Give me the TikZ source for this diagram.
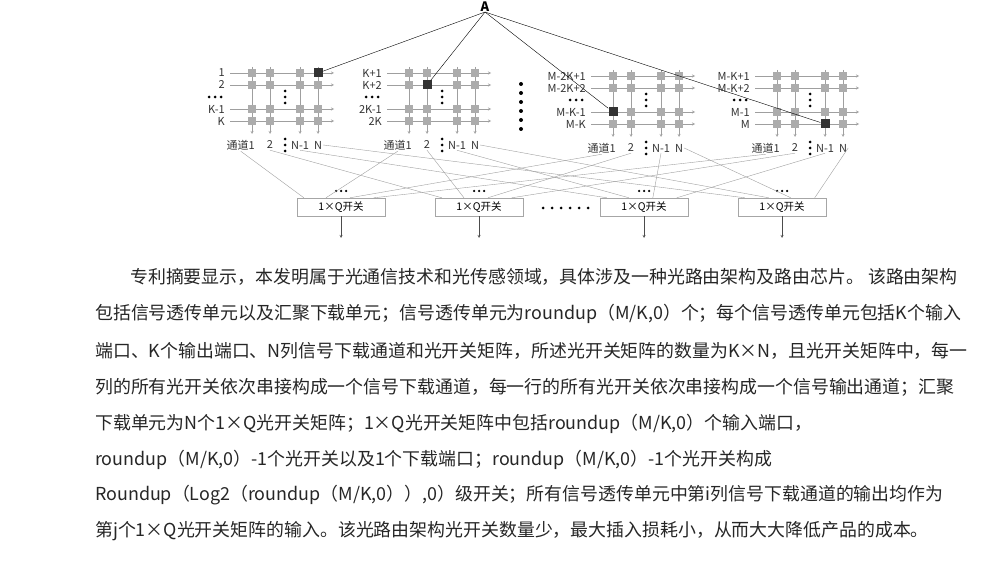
\documentclass[tikz,border=0pt]{standalone}
\usepackage{fontspec}
\setmainfont{Noto Sans CJK SC}
\usetikzlibrary{calc}
\tikzset{
  sq/.style={draw=none,fill=gray!65,minimum size=8pt,inner sep=0pt},
  dsq/.style={draw=none,fill=black!80,minimum size=9pt,inner sep=0pt},
  lbl/.style={font=\fontsize{11}{12}\selectfont,inner sep=1pt,text=black!80},
  sw/.style={draw=gray!70,minimum width=88pt,minimum height=18pt,inner sep=0pt,font=\fontsize{10.5}{11}\selectfont},
  txt/.style={anchor=west,inner sep=0pt,font=\fontsize{17.9}{20}\selectfont,text=black!85},
  ln/.style={gray!75,thin},
  dot/.style={circle,fill=black,inner sep=0pt,minimum size=3pt},
}
% one switch matrix: shift x, shift y, four row labels, name
\newcommand{\xblock}[7]{
  \begin{scope}[shift={(#1,#2)}]
    \foreach \r/\y/\t in {1/73/{#3},2/85/{#4},3/109/{#5},4/121/{#6}}{
      \node[lbl,anchor=east] (#7-l\r) at (0,\y) {\t};
      \draw[ln,-stealth] (4,\y) -- (108,\y);
    }
    \foreach \c/\x in {1/26,2/44,3/74,4/92}{
      \draw[ln,-stealth] (\x,67) -- (\x,134);
      \foreach \r/\y in {1/73,2/85,3/109,4/121}
        \node[sq] (#7-\r-\c) at (\x,\y) {};
    }
    \foreach \k in {-17,-11,-5} \node[dot] at (\k,97) {};
    \foreach \k in {91,97,103} \node[dot] at (59,\k) {};
    \node[lbl,anchor=east] (#7-c1) at (30,145) {通道1};
    \node[lbl] (#7-c2) at (44,145) {2};
    \foreach \k in {139,145,151} \node[dot] at (59,\k) {};
    \node[lbl] (#7-c3) at (74,145) {N-1};
    \node[lbl] (#7-c4) at (92,145) {N};
  \end{scope}
}
\begin{document}
\begin{tikzpicture}[x=1pt,y=-1pt]
\useasboundingbox (0,0) rectangle (988,564);
\node[font=\bfseries\fontsize{13}{13}\selectfont,inner sep=0pt] (A) at (485,7) {A};

\xblock{226}{0}{1}{2}{K-1}{K}{b1}
\xblock{383}{0}{K+1}{K+2}{2K-1}{2K}{b2}
\xblock{587}{3}{M-2K+1}{M-2K+2}{M-K-1}{M-K}{b3}
\xblock{751}{3}{M-K+1}{M-K+2}{M-1}{M}{b4}

% dark switches on the path
\node[dsq] (d1) at (b1-1-4) {};
\node[dsq] (d2) at (b2-2-2) {};
\node[dsq] (d3) at (b3-3-1) {};
\node[dsq] (d4) at (b4-4-3) {};
\foreach \d in {d1,d2,d3,d4}
  \draw[black,thin] (A.south) -- (\d);

\foreach \k in {84,93,102,111,120,129} \node[dot,minimum size=4pt] at (521,\k) {};

% 1xQ switches
\foreach \i/\x in {1/341,2/479,3/644,4/782}{
  \node[sw] (s\i) at (\x,207) {1×Q开关};
  \foreach \k in {-5,0,5} \node[dot,minimum size=2.5pt] at (\x+\k,191) {};
  \coordinate (o\i) at (\x,238);
  \draw[black!70,-stealth] (s\i) -- (o\i);
}
\foreach \k in {543,552,561,570,579,588} \node[dot] at (\k,208) {};

% channel i of every block to switch i
\foreach \b/\f in {1/.08,2/.33,3/.6,4/.87}
  \foreach \c in {1,2,3}
    \draw[ln] (b\b-c\c.south) -- ($(s\c.north west)!\f!(s\c.north east)$);
\foreach \b/\f in {1/.08,2/.35,3/.6,4/.87}
  \draw[ln] (b\b-c4.east) -- ($(s4.north west)!\f!(s4.north east)$);

% abstract text
\node[txt] (t1) at (130,277) {专利摘要显示，本发明属于光通信技术和光传感领域，具体涉及一种光路由架构及路由芯片。 该路由架构};
\node[txt] (t2) at (95,314) {包括信号透传单元以及汇聚下载单元；信号透传单元为roundup（M/K,0）个；每个信号透传单元包括K个输入};
\node[txt] (t3) at (95,351) {端口、K个输出端口、N列信号下载通道和光开关矩阵，所述光开关矩阵的数量为K×N，且光开关矩阵中，每一};
\node[txt] (t4) at (95,387) {列的所有光开关依次串接构成一个信号下载通道，每一行的所有光开关依次串接构成一个信号输出通道；汇聚};
\node[txt] (t5) at (95,424) {下载单元为N个1×Q光开关矩阵；1×Q光开关矩阵中包括roundup（M/K,0）个输入端口，};
\node[txt] (t6) at (95,460) {roundup（M/K,0）-1个光开关以及1个下载端口；roundup（M/K,0）-1个光开关构成};
\node[txt] (t7) at (95,495) {Roundup（Log2（roundup（M/K,0））,0）级开关；所有信号透传单元中第i列信号下载通道的输出均作为};
\node[txt] (t8) at (95,531) {第j个1×Q光开关矩阵的输入。该光路由架构光开关数量少，最大插入损耗小，从而大大降低产品的成本。};
\end{tikzpicture}
\end{document}
